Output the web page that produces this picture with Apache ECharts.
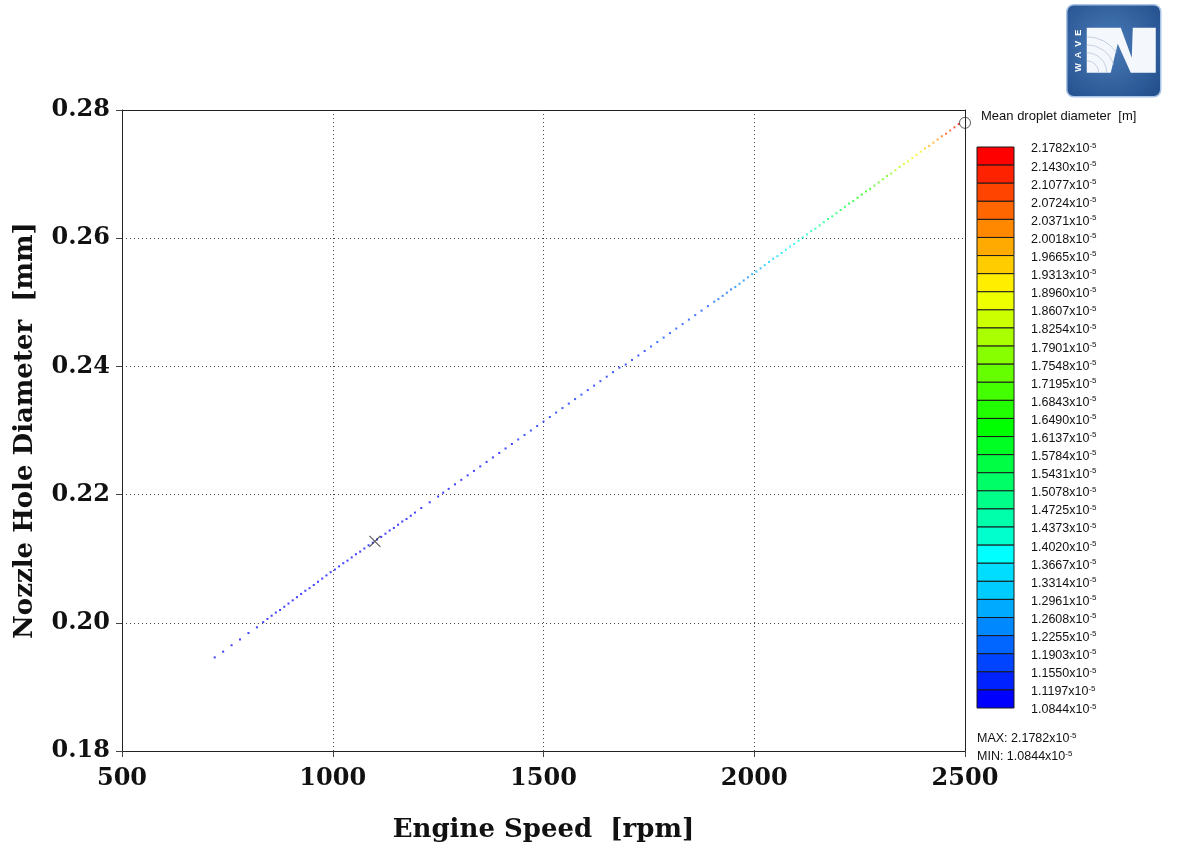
<!DOCTYPE html>
<html>
<head>
<meta charset="utf-8">
<title>Mean droplet diameter vs engine speed and nozzle hole diameter</title>
<script src="https://cdn.jsdelivr.net/npm/echarts@6/dist/echarts.min.js"></script>
<style>
  html, body { margin: 0; padding: 0; background: #ffffff; }
  #chart { width: 1177px; height: 848px; }
</style>
</head>
<body>
<div id="chart"></div>
<script>
// Operating points of the optimisation sweep: engine speed, nozzle hole diameter
// and the resulting mean droplet diameter (stored in units of 1e-5 m).
const speedRpm = [
  720, 740, 760, 780, 800, 820,
  835, 845, 855, 865, 875, 885, 895, 905, 915, 925, 935, 945, 955, 965, 975, 985, 995,
  1005, 1015, 1025, 1035, 1045, 1055, 1065, 1075, 1085, 1095, 1105, 1115, 1125, 1135,
  1145, 1155, 1165, 1175, 1185, 1195,
  1210, 1230, 1250, 1262,
  1275, 1290, 1305, 1320, 1335, 1350, 1365, 1380, 1395, 1410, 1425, 1440, 1455, 1470,
  1485, 1500, 1515, 1530, 1545, 1560, 1575, 1590, 1605, 1620, 1635, 1650, 1665, 1680,
  1695, 1710, 1725, 1740, 1755, 1770, 1785, 1800, 1815, 1830, 1845, 1860, 1875, 1890, 1905,
  1915, 1925, 1935, 1945, 1955, 1965, 1975, 1985, 1995, 2005, 2015, 2025, 2035, 2045,
  2055, 2065, 2075, 2085, 2095, 2105, 2115, 2125, 2135, 2145, 2155, 2165, 2175, 2185,
  2195, 2205, 2215, 2225, 2235, 2245, 2255, 2265, 2275, 2285, 2295, 2305, 2315, 2325,
  2335, 2345, 2355, 2365, 2375, 2385, 2395, 2405, 2415, 2425, 2435, 2445, 2455, 2465,
  2475, 2485
];

const holeDiameterMm = [
  0.1946, 0.1955, 0.1965, 0.1974, 0.1984, 0.1993,
  0.2001, 0.2006, 0.2011, 0.2016, 0.2020, 0.2025, 0.2030, 0.2035, 0.2040, 0.2045, 0.2050, 0.2054, 0.2059, 0.2064, 0.2069, 0.2074, 0.2079,
  0.2083, 0.2088, 0.2093, 0.2097, 0.2102, 0.2107, 0.2111, 0.2116, 0.2121, 0.2125, 0.2130, 0.2134, 0.2139, 0.2144,
  0.2148, 0.2153, 0.2158, 0.2162, 0.2167, 0.2172,
  0.2179, 0.2188, 0.2197, 0.2203,
  0.2209, 0.2216, 0.2223, 0.2230, 0.2237, 0.2244, 0.2251, 0.2258, 0.2265, 0.2272, 0.2279, 0.2286, 0.2293, 0.2300,
  0.2307, 0.2314, 0.2321, 0.2328, 0.2335, 0.2342, 0.2349, 0.2356, 0.2363, 0.2370, 0.2377, 0.2384, 0.2391, 0.2398,
  0.2403, 0.2410, 0.2417, 0.2424, 0.2431, 0.2438, 0.2445, 0.2452, 0.2459, 0.2466, 0.2473, 0.2480, 0.2487, 0.2494, 0.2501,
  0.2505, 0.2510, 0.2515, 0.2520, 0.2524, 0.2529, 0.2534, 0.2539, 0.2544, 0.2548, 0.2553, 0.2558, 0.2563, 0.2568,
  0.2572, 0.2577, 0.2582, 0.2587, 0.2591, 0.2596, 0.2601, 0.2606, 0.2611, 0.2615, 0.2620, 0.2625, 0.2630, 0.2634,
  0.2639, 0.2644, 0.2649, 0.2654, 0.2658, 0.2663, 0.2668, 0.2673, 0.2677, 0.2682, 0.2687, 0.2692, 0.2697, 0.2701,
  0.2706, 0.2711, 0.2716, 0.2720, 0.2725, 0.2730, 0.2735, 0.2740, 0.2744, 0.2749, 0.2754, 0.2759, 0.2763, 0.2768,
  0.2773, 0.2778
];

const dropletDiameterE5 = [
  1.0844, 1.0850, 1.0857, 1.0863, 1.0870, 1.0878,
  1.0880, 1.0885, 1.0890, 1.0895, 1.0900, 1.0905, 1.0910, 1.0915, 1.0920, 1.0925, 1.0930, 1.0935, 1.0940, 1.0945, 1.0950, 1.0955, 1.0960,
  1.0965, 1.0970, 1.0975, 1.0980, 1.0985, 1.0990, 1.0995, 1.1000, 1.1005, 1.1010, 1.1015, 1.1020, 1.1025, 1.1030,
  1.1035, 1.1040, 1.1045, 1.1050, 1.1055, 1.1060,
  1.1065, 1.1072, 1.1078, 1.1084,
  1.1090, 1.1100, 1.1110, 1.1120, 1.1130, 1.1140, 1.1150, 1.1160, 1.1170, 1.1180, 1.1190, 1.1200, 1.1210, 1.1220,
  1.1230, 1.1245, 1.1260, 1.1275, 1.1290, 1.1305, 1.1320, 1.1335, 1.1350, 1.1370, 1.1390, 1.1410, 1.1430, 1.1450,
  1.1475, 1.1500, 1.1525, 1.1550, 1.1580, 1.1610, 1.1640, 1.1670, 1.1700, 1.1735, 1.1770, 1.1805, 1.1840, 1.1880, 1.1920,
  1.200, 1.207, 1.215, 1.222, 1.230, 1.240, 1.250, 1.260, 1.270, 1.282, 1.294, 1.306, 1.318, 1.330,
  1.342, 1.355, 1.368, 1.381, 1.394, 1.407, 1.421, 1.435, 1.449, 1.463, 1.478, 1.493, 1.508, 1.523,
  1.539, 1.555, 1.571, 1.587, 1.604, 1.621, 1.638, 1.656, 1.674, 1.692, 1.711, 1.730, 1.750, 1.770,
  1.791, 1.812, 1.834, 1.856, 1.879, 1.902, 1.926, 1.950, 1.975, 2.000, 2.026, 2.052, 2.079, 2.107,
  2.136, 2.1782
];

// Highlighted designs: baseline (cross) and selected optimum (circle)
const baselinePoint = [1100, 0.2127];
const optimumPoint = [2500, 0.2780];

// Colour scale boundaries (1e-5 m), top to bottom, and the band colours between them
const scaleTicksE5 = [
  2.1782, 2.1430, 2.1077, 2.0724, 2.0371, 2.0018, 1.9665, 1.9313, 1.8960, 1.8607, 1.8254,
  1.7901, 1.7548, 1.7195, 1.6843, 1.6490, 1.6137, 1.5784, 1.5431, 1.5078, 1.4725, 1.4373,
  1.4020, 1.3667, 1.3314, 1.2961, 1.2608, 1.2255, 1.1903, 1.1550, 1.1197, 1.0844
];
const scaleColors = [
  '#ff0000', '#ff2200', '#ff4400', '#ff6600', '#ff8800', '#ffaa00', '#ffcc00', '#ffee00',
  '#eeff00', '#ccff00', '#aaff00', '#88ff00', '#66ff00', '#44ff00', '#22ff00', '#00ff00',
  '#00ff22', '#00ff44', '#00ff66', '#00ff88', '#00ffaa', '#00ffcc', '#00ffff', '#00ddff',
  '#00ccff', '#00aaff', '#0088ff', '#0066ff', '#0044ff', '#0022ff', '#0000ff'
];

const xRange = { min: 500, max: 2500, step: 500 };
const yRange = { min: 0.18, max: 0.28, step: 0.02 };

const points = speedRpm.map((s, i) => [s, holeDiameterMm[i], dropletDiameterE5[i]]);

const pieces = scaleColors.map((c, i) => ({
  min: scaleTicksE5[i + 1], max: scaleTicksE5[i], color: c
}));

// Colour bar geometry
const barX = 977, barTop = 147, barBottom = 708, barW = 37;
const cellH = (barBottom - barTop) / scaleColors.length;
const sansFont = '"Liberation Sans", Arial, Helvetica, sans-serif';
const serifFont = '"DejaVu Serif", serif';

const graphics = [];
scaleColors.forEach((c, i) => {
  graphics.push({
    type: 'rect',
    shape: { x: barX, y: barTop + i * cellH, width: barW, height: cellH },
    style: { fill: c, stroke: '#1a1a1a', lineWidth: 1 }
  });
});
const richSci = {
  m: { fontSize: 12.5, fontFamily: sansFont, fill: '#111', lineHeight: 15 },
  s: { fontSize: 8, fontFamily: sansFont, fill: '#111', verticalAlign: 'top', lineHeight: 15 }
};
scaleTicksE5.forEach((v, i) => {
  graphics.push({
    type: 'text',
    x: 1031, y: barTop + i * cellH + 2,
    style: {
      text: '{m|' + v.toFixed(4) + 'x10}{s|-5}',
      rich: richSci, verticalAlign: 'middle', align: 'left'
    }
  });
});
graphics.push({
  type: 'text', x: 981, y: 116,
  style: { text: 'Mean droplet diameter  [m]', font: '13px ' + sansFont, fill: '#111', verticalAlign: 'middle' }
});
graphics.push({
  type: 'text', x: 977, y: 739,
  style: { text: '{m|MAX: ' + scaleTicksE5[0].toFixed(4) + 'x10}{s|-5}', rich: richSci, verticalAlign: 'middle' }
});
graphics.push({
  type: 'text', x: 977, y: 757,
  style: { text: '{m|MIN: ' + scaleTicksE5[scaleTicksE5.length - 1].toFixed(4) + 'x10}{s|-5}', rich: richSci, verticalAlign: 'middle' }
});

// Product badge in the top right corner
graphics.push({
  type: 'group', left: 1066, top: 4,
  children: [
    {
      type: 'rect', shape: { x: 0, y: 0, width: 94, height: 92, r: 7 },
      style: {
        fill: new echarts.graphic.RadialGradient(0.45, 0.45, 0.7, [
          { offset: 0, color: '#4a7cb8' }, { offset: 1, color: '#24508e' }
        ]),
        stroke: '#a9c4e6', lineWidth: 1.5
      }
    },
    {
      type: 'polygon',
      shape: { points: [[20, 23], [54, 23], [65, 53], [66, 23], [89, 23], [89, 68], [64, 68], [51, 39], [44, 68], [20, 68]] },
      style: { fill: '#f4f7fb' }
    },
    { type: 'arc', shape: { cx: 20, cy: 68, r: 12, startAngle: -Math.PI / 2, endAngle: 0 }, style: { stroke: '#b9c7d8', lineWidth: 0.8, fill: null } },
    { type: 'arc', shape: { cx: 20, cy: 68, r: 20, startAngle: -Math.PI / 2, endAngle: 0 }, style: { stroke: '#b9c7d8', lineWidth: 0.8, fill: null } },
    { type: 'arc', shape: { cx: 20, cy: 68, r: 28, startAngle: -Math.PI / 2, endAngle: -0.3 }, style: { stroke: '#b9c7d8', lineWidth: 0.8, fill: null } },
    { type: 'arc', shape: { cx: 20, cy: 68, r: 36, startAngle: -Math.PI / 2, endAngle: -0.6 }, style: { stroke: '#b9c7d8', lineWidth: 0.8, fill: null } },
    {
      type: 'text', x: 12, y: 46, rotation: Math.PI / 2,
      style: { text: 'W  A  V  E', font: 'bold 9px ' + sansFont, fill: '#ffffff', align: 'center', verticalAlign: 'middle' }
    }
  ]
});

const axisFont = { fontFamily: serifFont, fontWeight: 'bold', fontSize: 24, color: '#111' };
const titleFont = { fontFamily: serifFont, fontWeight: 'bold', fontSize: 26, color: '#111' };
const gridDots = { show: true, lineStyle: { color: '#444', type: [1, 3], width: 1 } };
const frameLine = { show: true, onZero: false, lineStyle: { color: '#222', width: 1 } };

const chart = echarts.init(document.getElementById('chart'), null, { renderer: 'canvas' });
chart.setOption({
  backgroundColor: '#ffffff',
  animation: false,
  grid: { left: 122, right: 212, top: 110, bottom: 96 },
  xAxis: [
    {
      type: 'value', min: xRange.min, max: xRange.max, interval: xRange.step,
      name: 'Engine Speed  [rpm]', nameLocation: 'middle', nameGap: 66,
      nameTextStyle: titleFont,
      axisLine: frameLine,
      axisTick: { show: true, inside: false, length: 6, lineStyle: { color: '#444' } },
      axisLabel: Object.assign({ margin: 16, formatter: v => String(v) }, axisFont),
      splitLine: gridDots
    },
    {
      type: 'value', position: 'top', min: xRange.min, max: xRange.max, interval: xRange.step,
      axisLine: frameLine, axisTick: { show: false }, axisLabel: { show: false }, splitLine: { show: false }
    }
  ],
  yAxis: [
    {
      type: 'value', min: yRange.min, max: yRange.max, interval: yRange.step,
      name: 'Nozzle Hole Diameter  [mm]', nameLocation: 'middle', nameGap: 84, nameRotate: 90,
      nameTextStyle: titleFont,
      axisLine: frameLine,
      axisTick: { show: true, inside: false, length: 6, lineStyle: { color: '#444' } },
      axisLabel: Object.assign({ margin: 12, formatter: v => v.toFixed(2) }, axisFont),
      splitLine: gridDots
    },
    {
      type: 'value', position: 'right', min: yRange.min, max: yRange.max, interval: yRange.step,
      axisLine: frameLine, axisTick: { show: false }, axisLabel: { show: false }, splitLine: { show: false }
    }
  ],
  visualMap: {
    type: 'piecewise', show: false, dimension: 2, seriesIndex: 0, pieces: pieces
  },
  series: [
    {
      type: 'scatter', data: points, symbol: 'rect', symbolSize: 2,
      itemStyle: { opacity: 0.75 }, z: 3
    },
    {
      type: 'scatter', data: [baselinePoint], symbol: 'path://M0,0L10,10M10,0L0,10', symbolSize: 11,
      itemStyle: { color: 'none', borderColor: '#333', borderWidth: 1.2 }, z: 4, clip: false
    },
    {
      type: 'scatter', data: [optimumPoint], symbol: 'circle', symbolSize: 11,
      itemStyle: { color: 'rgba(255,255,255,0)', borderColor: '#333', borderWidth: 1 }, z: 5, clip: false
    }
  ],
  graphic: graphics
});
</script>
</body>
</html>
